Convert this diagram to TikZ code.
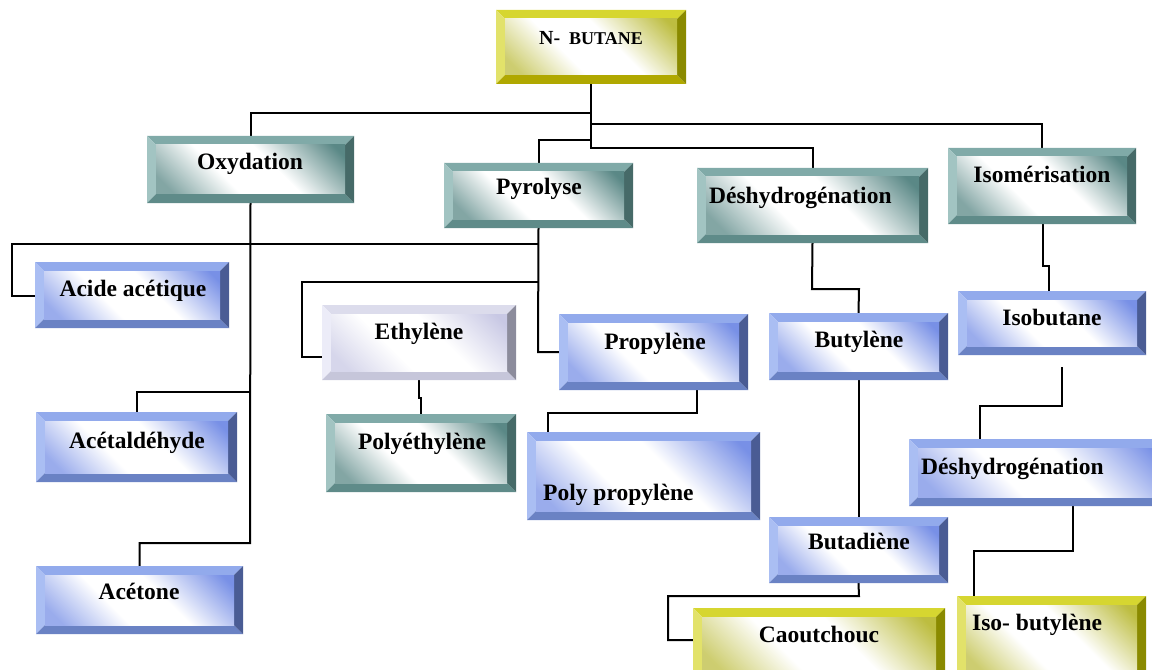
\documentclass[tikz,border=0pt]{standalone}
\usepackage{fontspec}
\setmainfont{Liberation Serif}
\pgfdeclarelayer{bg}
\pgfsetlayers{bg,main}
% yellow / olive
\definecolor{ylwT}{HTML}{D6D630}
\definecolor{ylwL}{HTML}{E2E26A}
\definecolor{ylwB}{HTML}{B0A800}
\definecolor{ylwR}{HTML}{8A8A00}
\definecolor{ylwI}{HTML}{BDBD40}
% teal
\definecolor{tealT}{HTML}{80AAA8}
\definecolor{tealL}{HTML}{A2C4C2}
\definecolor{tealB}{HTML}{5F8B89}
\definecolor{tealR}{HTML}{466A68}
\definecolor{tealI}{HTML}{5A8886}
% blue
\definecolor{bluT}{HTML}{92AAEC}
\definecolor{bluL}{HTML}{AABEF3}
\definecolor{bluB}{HTML}{6A82C4}
\definecolor{bluR}{HTML}{4A5C94}
\definecolor{bluI}{HTML}{7890E6}
% lavender
\definecolor{lavT}{HTML}{DCDCEC}
\definecolor{lavL}{HTML}{ECECF8}
\definecolor{lavB}{HTML}{C6C6DA}
\definecolor{lavR}{HTML}{8C8C9C}
\definecolor{lavI}{HTML}{C8C8E4}
\newcommand{\mkshade}[1]{%
  \colorlet{#1J}{#1I!75}%
  \pgfdeclareverticalshading{#1S}{100bp}{color(0bp)=(#1J); color(20bp)=(#1J); color(40bp)=(white); color(58bp)=(white); color(82bp)=(#1I); color(100bp)=(#1I)}%
}
\mkshade{ylw}
\mkshade{teal}
\mkshade{blu}
\mkshade{lav}
\tikzset{
  boxnode/.style={rectangle, inner sep=0pt, outer sep=0pt},
  txt/.style={font=\bfseries\fontsize{23.5bp}{26bp}\selectfont, inner sep=0pt},
  link/.style={line width=2bp, black},
}
\def\bwd{9}
\newcommand{\bevbox}[6]{%
  \fill[fill=#6T] (#2,#3) -- (#4,#3) -- ({#4-\bwd},{#3+\bwd}) -- ({#2+\bwd},{#3+\bwd}) -- cycle;
  \fill[fill=#6L] (#2,#3) -- ({#2+\bwd},{#3+\bwd}) -- ({#2+\bwd},{#5-\bwd}) -- (#2,#5) -- cycle;
  \fill[fill=#6B] (#2,#5) -- ({#2+\bwd},{#5-\bwd}) -- ({#4-\bwd},{#5-\bwd}) -- (#4,#5) -- cycle;
  \fill[fill=#6R] (#4,#3) -- (#4,#5) -- ({#4-\bwd},{#5-\bwd}) -- ({#4-\bwd},{#3+\bwd}) -- cycle;
  \shade[shading=#6S, shading angle=-45] ({#2+\bwd},{#3+\bwd}) rectangle ({#4-\bwd},{#5-\bwd});
  \node[boxnode, minimum width={(#4-#2)*1bp}, minimum height={(#5-#3)*1bp}] (#1) at ({(#2+#4)/2},{(#3+#5)/2}) {};
}
\begin{document}
\begin{tikzpicture}[x=1bp, y=-1bp]
\useasboundingbox (0,0) rectangle (1152,670);
\begin{scope}
\clip (0,0) rectangle (1152,670);
% boxes
\bevbox{nbut}{496}{10}{686}{84}{ylw}
\bevbox{oxy}{147}{136}{354}{203}{teal}
\bevbox{pyro}{444}{163}{633}{228}{teal}
\bevbox{deshA}{697}{168}{928}{243}{teal}
\bevbox{isom}{948}{148}{1136}{224}{teal}
\bevbox{acid}{35}{262}{229}{328}{blu}
\bevbox{eth}{322}{305}{516}{380}{lav}
\bevbox{prop}{559}{314}{748}{390}{blu}
\bevbox{buty}{769}{313}{948}{380}{blu}
\bevbox{isob}{958}{291}{1146}{355}{blu}
\bevbox{acal}{36}{412}{237}{482}{blu}
\bevbox{polye}{326}{414}{516}{492}{teal}
\bevbox{pp}{527}{432}{760}{520}{blu}
\bevbox{deshB}{909}{439}{1175}{506}{blu}
\bevbox{buta}{769}{517}{948}{583}{blu}
\bevbox{acet}{36}{566}{243}{634}{blu}
\bevbox{caou}{693}{608}{945}{682}{ylw}
\bevbox{isobut}{957}{596}{1146}{682}{ylw}
\end{scope}
% texts
\node[inner sep=0pt, anchor=mid] (nbut-t) at (591,42) {\bfseries\fontsize{20bp}{24bp}\selectfont N-\hspace{9bp}\fontsize{18bp}{22bp}\selectfont BUTANE};
\node[txt, anchor=mid] (oxy-t) at (250,167) {Oxydation};
\node[txt, anchor=mid] (pyro-t) at (539,192) {Pyrolyse};
\node[txt, anchor=mid west] (deshA-t) at (709,201) {Déshydrogénation};
\node[txt, anchor=mid] (isom-t) at (1042,180) {Isomérisation};
\node[txt, anchor=mid] (acid-t) at (133,294) {Acide acétique};
\node[txt, anchor=mid] (eth-t) at (419,337) {Ethylène};
\node[txt, anchor=mid] (prop-t) at (655,347) {Propylène};
\node[txt, anchor=mid] (buty-t) at (859,345) {Butylène};
\node[txt, anchor=mid] (isob-t) at (1052,323) {Isobutane};
\node[txt, anchor=mid] (acal-t) at (137,446) {Acétaldéhyde};
\node[txt, anchor=mid] (polye-t) at (422,447) {Polyéthylène};
\node[txt, anchor=mid west] (pp-t) at (543,498) {Poly propylène};
\node[txt, anchor=mid west] (deshB-t) at (921,472) {Déshydrogénation};
\node[txt, anchor=mid] (buta-t) at (859,547) {Butadiène};
\node[txt, anchor=mid] (acet-t) at (139,597) {Acétone};
\node[txt, anchor=mid] (caou-t) at (819,640) {Caoutchouc};
\node[txt, anchor=mid west] (isobut-t) at (972,628) {Iso- butylène};
% junction coordinates
\coordinate (s1) at (591,113);
\coordinate (s2) at (591,124);
\coordinate (s3) at (591,140);
\coordinate (s4) at (591,148);
\coordinate (o2) at (250,392);
\coordinate (o3) at (250,543);
\coordinate (p0) at (538,244);
\coordinate (a1) at (12,244);
\coordinate (a2) at (12,296);
\coordinate (p2) at (538,282);
\coordinate (e1) at (302,357);
\coordinate (p3) at (538,352);
\coordinate (j1) at (419,398);
\coordinate (j2) at (421,398);
\coordinate (q1) at (697,413);
\coordinate (q2) at (548,413);
\coordinate (d1) at (812,289);
\coordinate (d2) at (859,289);
\coordinate (c1) at (859,596);
\coordinate (c2) at (668,596);
\coordinate (c3) at (668,640);
\coordinate (i1) at (1043,266);
\coordinate (i2) at (1049,266);
\coordinate (k0) at (1062,367);
\coordinate (k1) at (1062,406);
\coordinate (k2) at (980,406);
\coordinate (m1) at (1073,551);
\coordinate (m2) at (974,551);
\begin{pgfonlayer}{bg}
\draw[link] (nbut.south) -- (s1) -| (oxy.north);
\draw[link] (s1) -- (s2) -| (isom.north);
\draw[link] (s2) -- (s3) -| (pyro.north);
\draw[link] (s3) -- (s4) -| (deshA.north);
\draw[link] (oxy.south) -- (o3) -| (acet.north);
\draw[link] (o2) -| (acal.north);
\draw[link] (pyro.south) -- (p3) -- (prop.west);
\draw[link] (p0) -- (a1) -- (a2) -- (acid.west |- a2);
\draw[link] (p2) -| (e1) -- (eth.west |- e1);
\draw[link] (eth.south) -- (j1) -- (j2) -- (polye.north -| j2);
\draw[link] (prop.south -| q1) -- (q1) -- (q2) -- (pp.north -| q2);
\draw[link] (deshA.south) -- (d1) -- (d2) -- (buty.north);
\draw[link] (buty.south) -- (buta.north);
\draw[link] (buta.south) -- (c1) -- (c2) -- (c3) -- (caou.west |- c3);
\draw[link] (isom.south -| i1) -- (i1) -- (i2) -- (isob.north -| i2);
\draw[link] (k0) -- (k1) -- (k2) -- (deshB.north -| k2);
\draw[link] (deshB.south -| m1) -- (m1) -- (m2) -- (isobut.north -| m2);
\end{pgfonlayer}
\end{tikzpicture}
\end{document}
